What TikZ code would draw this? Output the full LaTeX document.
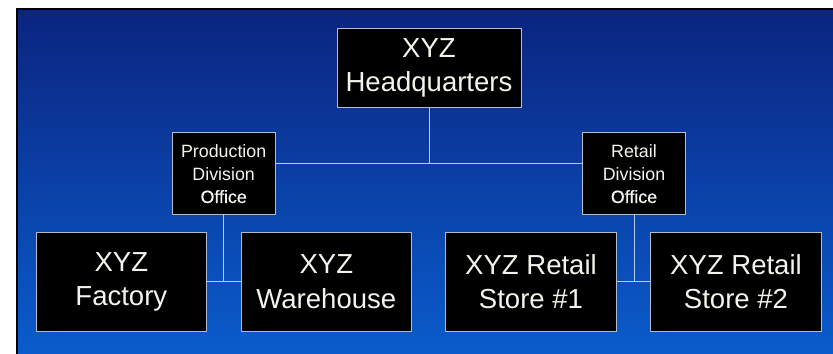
\documentclass[tikz,border=0pt]{standalone}
\usepackage{fontspec}
\setmainfont{Liberation Sans}
\newfontfamily\officefont[FakeBold=0.6]{Liberation Sans}
\usepackage{xcolor}
\usepackage{tikz}
\usetikzlibrary{shapes.geometric, calc}
\definecolor{bgtop}{HTML}{0B2480}
\definecolor{bgbot}{HTML}{0A5CCC}
\definecolor{boxline}{HTML}{B4BCCC}
\definecolor{wire}{HTML}{B8CCF0}
\definecolor{boxtext}{HTML}{F4F4EC}
\tikzstyle{bigbox} = [rectangle, minimum width=5.12cm, minimum height=2.96cm, align=center, draw=boxline, line width=0.6pt, fill=black, text=boxtext, font=\fontsize{23.5}{29.5}\selectfont]
\tikzstyle{hqbox} = [bigbox, minimum width=5.52cm, minimum height=2.37cm]
\tikzstyle{divbox} = [rectangle, minimum width=3.1cm, minimum height=2.46cm, align=center, draw=boxline, line width=0.6pt, fill=black, text=boxtext, font=\fontsize{15.2}{19.6}\selectfont]
\tikzstyle{wire} = [draw=wire, line width=0.8pt]

\begin{document}
\begin{tikzpicture}[node distance=3.18cm]
\useasboundingbox (0,0) rectangle (24.99,-10.62);
% background
\shade[top color=bgtop, bottom color=bgbot] (0.51,-0.27) rectangle (24.99,-10.62);
\draw[black, line width=1.4pt] (0.51,-10.62) -- (0.51,-0.27) -- (24.99,-0.27);

\node (hq) [hqbox] at (12.87,-2.03) {XYZ\\Headquarters};
\node (prod) [divbox, below of=hq, xshift=-6.16cm] {Production\\Division\\{\officefont Office}};
\node (retdiv) [divbox, below of=hq, xshift=6.15cm] {Retail\\Division\\{\officefont Office}};

\node (factory) [bigbox, below of=prod, xshift=-3.07cm, yshift=-0.065cm] {XYZ\\Factory};
\node (warehouse) [bigbox, below of=prod, xshift=3.08cm, yshift=-0.065cm] {XYZ\\Warehouse};
\node (store1) [bigbox, below of=retdiv, xshift=-3.09cm, yshift=-0.065cm] {XYZ Retail\\Store \#1};
\node (store2) [bigbox, below of=retdiv, xshift=3.06cm, yshift=-0.065cm] {XYZ Retail\\Store \#2};

\coordinate (hqjoin) at ($(hq.south)+(0,-1.69)$);
\draw [wire] (hq.south) -- (hqjoin);
\draw [wire] (prod.east |- hqjoin) -- (retdiv.west |- hqjoin);

\draw [wire] (prod.south) -- (prod.south |- factory.east);
\draw [wire] (factory.east) -- (warehouse.west);
\draw [wire] (retdiv.south) -- (retdiv.south |- store1.east);
\draw [wire] (store1.east) -- (store2.west);

\end{tikzpicture}
\end{document}
